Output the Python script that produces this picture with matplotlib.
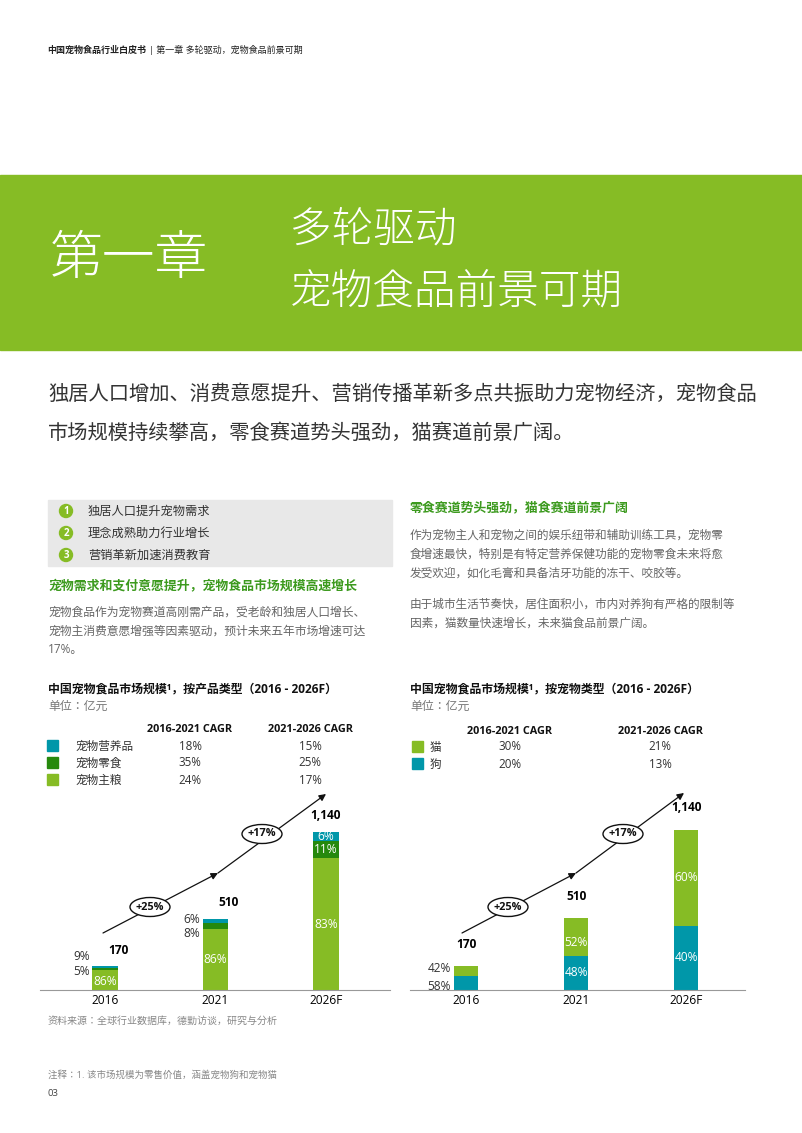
import matplotlib
matplotlib.use("Agg")
import matplotlib.pyplot as plt
from matplotlib.patches import Rectangle, Ellipse, Circle

plt.rcParams["font.family"] = ["Open Sans", "Noto Sans CJK JP", "DejaVu Sans"]

years = ["2016", "2021", "2026F"]
totals = [170, 510, 1140]
prod_main = [86, 86, 83]
prod_snack = [5, 8, 11]
prod_nutri = [9, 6, 6]
prod_cagr1 = ["18%", "35%", "24%"]   # 营养品, 零食, 主粮
prod_cagr2 = ["15%", "25%", "17%"]
pet_dog = [58, 48, 40]
pet_cat = [42, 52, 60]
pet_cagr1 = ["30%", "20%"]   # 猫, 狗
pet_cagr2 = ["21%", "13%"]

TEAL = "#0097A9"; DKG = "#26890D"; LG = "#86BC25"; HG = "#3C9A1E"
W, H = 802, 1133
fig = plt.figure(figsize=(W/100, H/100), dpi=100)
bg = fig.add_axes([0, 0, 1, 1]); bg.set_xlim(0, W); bg.set_ylim(H, 0); bg.axis("off")

def T(x, y, s, size=9, color="#333333", weight="normal", ha="left", va="center", **kw):
    bg.text(x, y, s, fontsize=size, color=color, fontweight=weight, ha=ha, va=va, **kw)

T(47, 50, "中国宠物食品行业白皮书", 6.5, "#222222", "bold")
T(149, 50, "| 第一章 多轮驱动，宠物食品前景可期", 6.5, "#222222")
bg.add_patch(Rectangle((0, 175), W, 175, color=LG))
T(50, 260, "第一章", 38, "white", "light")
T(290, 230, "多轮驱动", 30, "white", "light")
T(290, 292, "宠物食品前景可期", 30, "white", "light")
T(48, 395, "独居人口增加、消费意愿提升、营销传播革新多点共振助力宠物经济，宠物食品", 14.6, "#333333")
T(48, 434, "市场规模持续攀高，零食赛道势头强劲，猫赛道前景广阔。", 14.6, "#333333")

bg.add_patch(Rectangle((48, 500), 344, 66, color="#E8E8E8"))
for i, s in enumerate(["独居人口提升宠物需求", "理念成熟助力行业增长", "营销革新加速消费教育"]):
    y = 511 + 22*i
    bg.add_patch(Circle((66, y), 6.5, color=LG))
    T(66, y, str(i+1), 7, "white", "bold", ha="center")
    T(88, y, s, 8.8, "#333333")
T(48, 586, "宠物需求和支付意愿提升，宠物食品市场规模高速增长", 9.3, HG, "bold")
for i, s in enumerate(["宠物食品作为宠物赛道高刚需产品，受老龄和独居人口增长、",
                       "宠物主消费意愿增强等因素驱动，预计未来五年市场增速可达", "17%。"]):
    T(48, 612 + 19*i, s, 8.5, "#666666")
T(410, 508, "零食赛道势头强劲，猫食赛道前景广阔", 9.3, HG, "bold")
for i, s in enumerate(["作为宠物主人和宠物之间的娱乐纽带和辅助训练工具，宠物零",
                       "食增速最快，特别是有特定营养保健功能的宠物零食未来将愈",
                       "发受欢迎，如化毛膏和具备洁牙功能的冻干、咬胶等。"]):
    T(410, 535 + 19*i, s, 8.4, "#666666")
for i, s in enumerate(["由于城市生活节奏快，居住面积小，市内对养狗有严格的限制等",
                       "因素，猫数量快速增长，未来猫食品前景广阔。"]):
    T(410, 604 + 19*i, s, 8.4, "#666666")

T(48, 689, "中国宠物食品市场规模¹，按产品类型（2016 - 2026F）", 8.6, "#111111", "bold")
T(48, 706, "单位：亿元", 8.6, "#777777")
T(410, 689, "中国宠物食品市场规模¹，按宠物类型（2016 - 2026F）", 8.6, "#111111", "bold")
T(410, 706, "单位：亿元", 8.6, "#777777")
T(190, 729, "2016-2021 CAGR", 7.8, "#111111", "bold", ha="center")
T(310, 729, "2021-2026 CAGR", 7.8, "#111111", "bold", ha="center")
for i, (nm, c) in enumerate(zip(["宠物营养品", "宠物零食", "宠物主粮"], [TEAL, DKG, LG])):
    y = 746 + 17*i
    bg.add_patch(Rectangle((47, y-6), 11, 11, color=c))
    T(75, y, nm, 8.4); T(190, y, prod_cagr1[i], 8.4, ha="center"); T(310, y, prod_cagr2[i], 8.4, ha="center")
T(510, 731, "2016-2021 CAGR", 7.8, "#111111", "bold", ha="center")
T(660, 731, "2021-2026 CAGR", 7.8, "#111111", "bold", ha="center")
for i, (nm, c) in enumerate(zip(["猫", "狗"], [LG, TEAL])):
    y = 747 + 17*i
    bg.add_patch(Rectangle((412, y-6), 11, 11, color=c))
    T(430, y, nm, 8.4); T(510, y, pet_cagr1[i], 8.4, ha="center"); T(660, y, pet_cagr2[i], 8.4, ha="center")

def growth(p0, pm, p1, e1, e2):
    ap = dict(arrowstyle="-|>", color="#111111", lw=0.9, mutation_scale=10, shrinkA=0, shrinkB=0)
    bg.annotate("", xy=pm, xytext=p0, arrowprops=ap)
    bg.annotate("", xy=p1, xytext=pm, arrowprops=ap)
    for (x, y), s in zip([e1, e2], ["+25%", "+17%"]):
        bg.add_patch(Ellipse((x, y), 40, 19, facecolor="white", edgecolor="#111111", lw=1, zorder=5))
        T(x, y, s, 7.8, "#111111", "bold", ha="center", zorder=6)
growth((103, 933), (218, 873), (326, 794), (150, 907), (262, 834))
growth((462, 933), (576, 873), (684, 793), (508, 907), (623, 834))

def pax(x0, x1, y0, y1):
    a = fig.add_axes([x0/W, 1-y1/H, (x1-x0)/W, (y1-y0)/H]); a.patch.set_alpha(0)
    for s in ["top", "right", "left"]: a.spines[s].set_visible(False)
    a.spines["bottom"].set_color("#999999"); a.set_yticks([])
    a.tick_params(axis="x", length=0, labelsize=8.6, pad=3)
    return a

xs = list(range(3))
ax = pax(40, 390, 800, 990)
ax.set_xlim(-0.59, 2.58); ax.set_ylim(0, 1367)
m = [t*p/100 for t, p in zip(totals, prod_main)]
s = [t*p/100 for t, p in zip(totals, prod_snack)]
n = [t*p/100 for t, p in zip(totals, prod_nutri)]
bw = 0.23
ax.bar(xs, m, bw, color=LG)
ax.bar(xs, s, bw, bottom=m, color=DKG)
ax.bar(xs, n, bw, bottom=[a+b for a, b in zip(m, s)], color=TEAL)
ax.set_xticks(xs, years)
for i in xs:
    ax.text(i, m[i]/2 if i else m[i]/2 - 10, f"{prod_main[i]}%", color="white", fontsize=8.6, ha="center", va="center")
    ax.text(i + (0.12 if i < 2 else 0), totals[i] + 70, f"{totals[i]:,}", fontsize=8.6, fontweight="bold", ha="center", va="bottom")
ax.text(-0.14, totals[0] + 69, f"{prod_nutri[0]}%", fontsize=8.6, ha="right", va="center", color="#333333")
ax.text(-0.14, totals[0] - 35, f"{prod_snack[0]}%", fontsize=8.6, ha="right", va="center", color="#333333")
ax.text(1 - 0.14, totals[1] - 0, f"{prod_nutri[1]}%", fontsize=8.6, ha="right", va="center", color="#333333")
ax.text(1 - 0.14, totals[1] - 100, f"{prod_snack[1]}%", fontsize=8.6, ha="right", va="center", color="#333333")
ax.text(2, m[2] + s[2]/2, f"{prod_snack[2]}%", color="white", fontsize=8.6, ha="center", va="center")
ax.text(2, m[2] + s[2] + n[2]/2, f"{prod_nutri[2]}%", color="white", fontsize=8.6, ha="center", va="center")

ax2 = pax(410, 745, 800, 990)
ax2.set_xlim(-0.51, 2.535); ax2.set_ylim(0, 1353)
d = [t*p/100 for t, p in zip(totals, pet_dog)]
c = [t*p/100 for t, p in zip(totals, pet_cat)]
bw2 = 0.22
ax2.bar(xs, d, bw2, color=TEAL)
ax2.bar(xs, c, bw2, bottom=d, color=LG)
ax2.set_xticks(xs, years)
for i in xs:
    ax2.text(i, totals[i] + 110, f"{totals[i]:,}", fontsize=8.6, fontweight="bold", ha="center", va="bottom")
    if i:
        ax2.text(i, d[i]/2, f"{pet_dog[i]}%", color="white", fontsize=8.6, ha="center", va="center")
        ax2.text(i, d[i] + c[i]/2 - (40 if i == 1 else 0), f"{pet_cat[i]}%", color="white", fontsize=8.6, ha="center", va="center")
ax2.text(-0.14, d[0] + c[0]/2 + 20, f"{pet_cat[0]}%", fontsize=8.6, ha="right", va="center", color="#333333")
ax2.text(-0.14, d[0]/2 - 25, f"{pet_dog[0]}%", fontsize=8.6, ha="right", va="center", color="#333333")

T(48, 1021, "资料来源：全球行业数据库，德勤访谈，研究与分析", 7.2, "#888888")
T(48, 1075, "注释：1. 该市场规模为零售价值，涵盖宠物狗和宠物猫", 6.8, "#888888")
T(48, 1093, "03", 6.8, "#444444")
fig.savefig("out.png", dpi=100)
